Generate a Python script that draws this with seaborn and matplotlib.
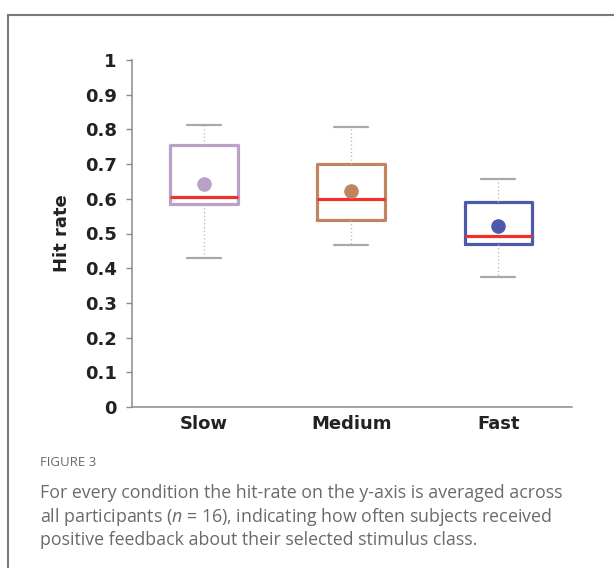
import numpy as np
import pandas as pd
import matplotlib
matplotlib.use("Agg")
import matplotlib.pyplot as plt
from matplotlib.patches import Rectangle
import seaborn as sns

# Hit-rate summaries per condition
conditions = ["Slow", "Medium", "Fast"]
whisker_low = [0.429, 0.467, 0.376]
q1 = [0.585, 0.539, 0.469]
median = [0.605, 0.599, 0.493]
q3 = [0.755, 0.700, 0.592]
whisker_high = [0.813, 0.807, 0.657]
mean = [0.643, 0.622, 0.522]
colors = ["#b9a2c6", "#c08560", "#4d5aac"]
yticks = [0, 0.1, 0.2, 0.3, 0.4, 0.5, 0.6, 0.7, 0.8, 0.9, 1]
ytick_labels = ["0", "0.1", "0.2", "0.3", "0.4", "0.5", "0.6", "0.7", "0.8", "0.9", "1"]

sns.set_theme(style="white")
plt.rcParams["font.family"] = ["DejaVu Sans"]
plt.rcParams["mathtext.fontset"] = "custom"
plt.rcParams["mathtext.rm"] = "Open Sans"
plt.rcParams["mathtext.it"] = "Open Sans:italic"

# Five-number summaries in long form; quartiles of five values land exactly on them
rows = []
for c, lo, a, m, b, hi in zip(conditions, whisker_low, q1, median, q3, whisker_high):
    for v in (lo, a, m, b, hi):
        rows.append({"condition": c, "hit": v})
df = pd.DataFrame(rows)
palette = dict(zip(conditions, colors))

fig = plt.figure(figsize=(6.14, 5.68), dpi=100)
ax = fig.add_axes([132 / 614, 1 - 407 / 568, 440 / 614, 347 / 568])

sns.boxplot(
    data=df, x="condition", y="hit", hue="condition", order=conditions,
    palette=palette, fill=False, width=0.46, whis=(0, 100), linewidth=2.3,
    legend=False, ax=ax,
    medianprops=dict(color="#f0302a", linewidth=2.3),
    whiskerprops=dict(color="#b4b4b4", linewidth=0.9, linestyle=(0, (1, 2))),
    capprops=dict(color="#a8a8a8", linewidth=1.6),
    boxprops=dict(solid_joinstyle="round"),
)

sns.stripplot(
    x=conditions, y=mean, hue=conditions, order=conditions, palette=palette,
    jitter=False, size=10.5, linewidth=0, legend=False, ax=ax, zorder=5,
)

ax.set_xlim(-0.49, 2.5)
ax.set_ylim(0, 1)
ax.set_yticks(yticks)
ax.set_yticklabels(ytick_labels)
ax.set_xlabel("")
ax.set_ylabel("Hit rate", fontsize=13, fontweight="bold", color="#222222", labelpad=10)
for s in ("top", "right"):
    ax.spines[s].set_visible(False)
for s in ("left", "bottom"):
    ax.spines[s].set_color("#8c8c8c")
    ax.spines[s].set_linewidth(1.1)
ax.tick_params(axis="y", left=True, length=4, width=1, color="#8c8c8c",
               labelsize=13, pad=7, labelcolor="#222222")
ax.tick_params(axis="x", bottom=False, length=0, labelsize=13, pad=6, labelcolor="#222222")
for lbl in ax.get_yticklabels() + ax.get_xticklabels():
    lbl.set_fontweight("bold")

# Caption
fig.text(40 / 614, 1 - 463 / 568, "FIGURE 3", fontsize=9.5, color="#6a6a6a",
         family=["Open Sans", "DejaVu Sans"], va="center", ha="left")
caption = [
    "For every condition the hit-rate on the y-axis is averaged across",
    "all participants ($n$ = 16), indicating how often subjects received",
    "positive feedback about their selected stimulus class.",
]
for i, line in enumerate(caption):
    fig.text(40 / 614, 1 - (493 + 23.5 * i) / 568, line, fontsize=12.8, color="#6a6a6a",
             family=["Open Sans", "DejaVu Sans"], va="center", ha="left")

# Outer frame
fig.patches.append(Rectangle((8 / 614, -0.1), 1.2, (553 / 568) + 0.1,
                             transform=fig.transFigure, fill=False,
                             edgecolor="#7a7a7a", linewidth=1.5))

fig.savefig("out.png", dpi=100)
